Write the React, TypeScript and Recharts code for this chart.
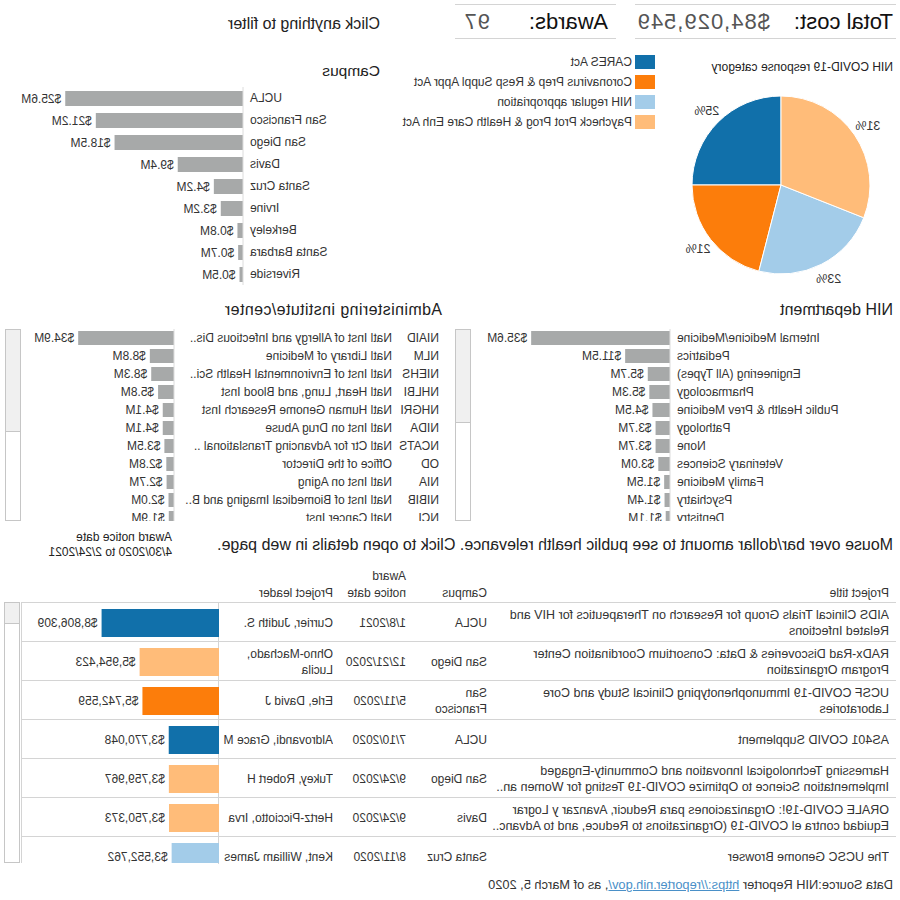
import React from 'react';
import { BarChart, Bar, XAxis, YAxis, LabelList, Cell, PieChart, Pie } from 'recharts';

// the whole dashboard is laid out normally and then flipped left-right, like the reference
const FONT = '"Liberation Sans", Arial, sans-serif';
const INK = '#333333';
const RULE = '#d4d4d4';
const GRAY_BAR = '#a7a9a9';

const CATEGORY_NAMES = [
  'CARES Act',
  'Coronavirus Prep & Resp Suppl Appr Act',
  'NIH regular appropriation',
  'Paycheck Prot Prog & Health Care Enh Act',
];
const CATEGORY_SHARE = [25, 21, 23, 31];
const CATEGORY_COLORS = ['#1170aa', '#fc7d0b', '#a3cce9', '#ffbc79'];

const CAMPUSES = ['UCLA', 'San Francisco', 'San Diego', 'Davis', 'Santa Cruz', 'Irvine', 'Berkeley', 'Santa Barbara', 'Riverside'];
const CAMPUS_M = [25.6, 21.2, 18.5, 9.4, 4.2, 3.2, 0.8, 0.7, 0.5];

const DEPARTMENTS = [
  'Internal Medicine/Medicine', 'Pediatrics', 'Engineering (All Types)', 'Pharmacology',
  'Public Health & Prev Medicine', 'Pathology', 'None', 'Veterinary Sciences',
  'Family Medicine', 'Psychiatry', 'Dentistry',
];
const DEPARTMENT_M = [35.6, 11.5, 5.7, 5.3, 4.5, 3.7, 3.7, 3.0, 1.5, 1.4, 1.1];

const INSTITUTE_CODES = ['NIAID', 'NLM', 'NIEHS', 'NHLBI', 'NHGRI', 'NIDA', 'NCATS', 'OD', 'NIA', 'NIBIB', 'NCI'];
const INSTITUTE_NAMES = [
  'Natl Inst of Allergy and Infectious Dis..',
  'Natl Library of Medicine',
  'Natl Inst of Environmental Health Sci..',
  'Natl Heart, Lung, and Blood Inst',
  'Natl Human Genome Research Inst',
  'Natl Inst on Drug Abuse',
  'Natl Ctr for Advancing Translational ..',
  'Office of the Director',
  'Natl Inst on Aging',
  'Natl Inst of Biomedical Imaging and B..',
  'Natl Cancer Inst',
];
const INSTITUTE_M = [34.9, 8.8, 8.3, 5.8, 4.1, 4.1, 3.5, 2.8, 2.7, 2.0, 1.9];

const PROJECT_TITLES = [
  'AIDS Clinical Trials Group for Research on Therapeutics for HIV and\nRelated Infections',
  'RADx-Rad Discoveries & Data: Consortium Coordination Center\nProgram Organization',
  'UCSF COVID-19 Immunophenotyping Clinical Study and Core\nLaboratories',
  'AS401 COVID Supplement',
  'Harnessing Technological Innovation and Community-Engaged\nImplementation Science to Optimize COVID-19 Testing for Women an..',
  'ORALE COVID-19!: Organizaciones para Reducir, Avanzar y Lograr\nEquidad contra el COVID-19 (Organizations to Reduce, and to Advanc..',
  'The UCSC Genome Browser',
];
const PROJECT_CAMPUS = ['UCLA', 'San Diego', 'San\nFrancisco', 'UCLA', 'San Diego', 'Davis', 'Santa Cruz'];
const PROJECT_DATES = ['1/8/2021', '12/21/2020', '5/11/2020', '7/10/2020', '9/24/2020', '9/24/2020', '8/11/2020'];
const PROJECT_LEADERS = [
  'Currier, Judith S.', 'Ohno-Machado,\nLucila', 'Erle, David J', 'Aldrovandi, Grace M',
  'Tukey, Robert H', 'Hertz-Picciotto, Irva', 'Kent, William James',
];
const PROJECT_AMOUNTS = [8806309, 5954423, 5742559, 3770048, 3759967, 3750373, 3552762];
const PROJECT_CATEGORY = [0, 3, 1, 0, 3, 3, 2];

const TOTAL_COST = '$84,029,549';
const AWARDS = 97;

const abs = (left: number, top: number, extra: React.CSSProperties = {}): React.CSSProperties => ({
  position: 'absolute', left, top, ...extra,
});

const Txt: React.FC<{ x: number; y: number; size?: number; color?: string; children: React.ReactNode; style?: React.CSSProperties }> = ({ x, y, size = 12, color = INK, children, style }) => (
  <div style={{ position: 'absolute', left: x, top: y - size * 0.6, fontSize: size, lineHeight: `${Math.round(size * 1.2)}px`, color, whiteSpace: 'pre', ...style }}>
    {children}
  </div>
);

type HBarProps = {
  names: string[];
  values: number[];
  left: number;
  top: number;
  width: number;
  height: number;
  clip: number;
  axisW: number;
  max: number;
  barSize: number;
  codes?: string[];
};

const HBar: React.FC<HBarProps> = ({ names, values, left, top, width, height, clip, axisW, max, barSize, codes }) => {
  const data = names.map((n, i) => ({ name: n, value: values[i] }));
  const tick = (p: any) => {
    const i = p.index;
    if (codes) {
      return (
        <g>
          <text x={11} y={p.y} dy="0.35em" fontSize={12} fill={INK} fontFamily={FONT}>{codes[i]}</text>
          <text x={58} y={p.y} dy="0.35em" fontSize={12} fill={INK} fontFamily={FONT}>{names[i]}</text>
        </g>
      );
    }
    return (
      <text x={axisW - 7} y={p.y} dy="0.35em" textAnchor="end" fontSize={12} fill={INK} fontFamily={FONT}>
        {names[i]}
      </text>
    );
  };
  return (
    <div style={abs(left, top, { width, height: clip, overflow: 'hidden' })}>
      <BarChart layout="vertical" width={width} height={height} data={data} margin={{ top: 0, right: 0, bottom: 0, left: 0 }}>
        <XAxis type="number" hide domain={[0, max]} />
        <YAxis type="category" dataKey="name" width={axisW} tickLine={false} axisLine={{ stroke: '#dcdcdc' }} tick={tick} interval={0} />
        <Bar dataKey="value" fill={GRAY_BAR} barSize={barSize} isAnimationActive={false}>
          <LabelList dataKey="value" position="right" offset={4} fontSize={12} fill={INK} formatter={(v: any) => `$${Number(v).toFixed(1)}M`} />
        </Bar>
      </BarChart>
    </div>
  );
};

const Scroll: React.FC<{ x: number; y: number; h: number; thumb: number }> = ({ x, y, h, thumb }) => (
  <div style={abs(x, y, { width: 16, height: h, border: '1px solid #c6c6c6', boxSizing: 'border-box', background: '#fff' })}>
    <div style={{ height: thumb, background: '#f0f0f0', borderBottom: '1px solid #c6c6c6' }} />
  </div>
);

const pieData = CATEGORY_NAMES.map((n, i) => ({ name: n, value: CATEGORY_SHARE[i] }));

const pieLabel = (p: any) => {
  const RAD = Math.PI / 180;
  const r = p.outerRadius + 16;
  const x = p.cx + r * Math.cos(-p.midAngle * RAD);
  const y = p.cy + r * Math.sin(-p.midAngle * RAD);
  return (
    <text x={x} y={y} textAnchor="middle" dominantBaseline="central" fontSize={12.5} fill={INK} fontFamily={FONT}>
      {`${p.value}%`}
    </text>
  );
};

const ROW_H = 39;
const TABLE_TOP = 602;
const TABLE_BOTTOM = 863;

const tableData = PROJECT_AMOUNTS.map((v, i) => ({ title: PROJECT_TITLES[i], value: v }));

export default function App() {
  return (
    <div
      style={{
        position: 'absolute', left: 0, top: 0, width: 900, height: 900, background: '#fff',
        transform: 'scaleX(-1)', fontFamily: FONT, color: INK, overflow: 'hidden',
      }}
    >
      {/* header */}
      <div style={abs(4, 4, { width: 261, height: 33, borderTop: `1px solid ${RULE}`, borderBottom: `1px solid ${RULE}` })} />
      <div style={abs(284, 4, { width: 161, height: 33, borderTop: `1px solid ${RULE}`, borderBottom: `1px solid ${RULE}` })} />
      <Txt x={7} y={22} size={22} color="#111">Total cost:</Txt>
      <Txt x={130} y={22} size={22} color="#555" style={{ letterSpacing: 1 }}>{TOTAL_COST}</Txt>
      <Txt x={292} y={22} size={22} color="#111">Awards:</Txt>
      <Txt x={410} y={22} size={22} color="#555" style={{ letterSpacing: 1 }}>{AWARDS}</Txt>
      <Txt x={520} y={24} size={16} color="#222">Click anything to filter</Txt>

      {/* response category pie */}
      <Txt x={7} y={67} size={12} color="#222">NIH COVID-19 response category</Txt>
      <div style={abs(0, 85)}>
        <PieChart width={240} height={220} margin={{ top: 0, right: 0, bottom: 0, left: 0 }}>
          <Pie
            data={pieData}
            dataKey="value"
            cx={119}
            cy={100}
            outerRadius={89}
            startAngle={90}
            endAngle={-270}
            stroke="#fff"
            strokeWidth={1}
            label={pieLabel}
            labelLine={false}
            isAnimationActive={false}
          >
            {pieData.map((d, i) => (
              <Cell key={d.name} fill={CATEGORY_COLORS[i]} />
            ))}
          </Pie>
        </PieChart>
      </div>
      {CATEGORY_NAMES.map((n, i) => (
        <React.Fragment key={n}>
          <div style={abs(245, 55 + i * 20, { width: 20, height: 14, background: CATEGORY_COLORS[i] })} />
          <Txt x={268} y={62 + i * 20} size={12}>{n}</Txt>
        </React.Fragment>
      ))}

      {/* campus */}
      <Txt x={520} y={70} size={15.5} color="#222">Campus</Txt>
      <HBar names={CAMPUSES} values={CAMPUS_M} left={450} top={87} width={450} height={198} clip={198} axisW={207} max={35} barSize={15} />

      {/* department */}
      <Txt x={7} y={310} size={16} color="#222">NIH department</Txt>
      <HBar names={DEPARTMENTS} values={DEPARTMENT_M} left={0} top={329} width={425} height={198} clip={192} axisW={230} max={50} barSize={14} />
      <Scroll x={429} y={329} h={192} thumb={92} />

      {/* institute */}
      <Txt x={458} y={310} size={16} color="#222" style={{ letterSpacing: 0.4 }}>Administering institute/center</Txt>
      <HBar names={INSTITUTE_NAMES} codes={INSTITUTE_CODES} values={INSTITUTE_M} left={450} top={329} width={427} height={198} clip={192} axisW={276} max={55} barSize={14} />
      <Scroll x={879} y={329} h={192} thumb={101} />

      {/* project table */}
      <Txt x={7} y={545} size={16} color="#222">Mouse over bar/dollar amount to see public health relevance. Click to open details in web page.</Txt>
      <Txt x={728} y={537} size={12} color="#222">Award notice date</Txt>
      <Txt x={728} y={552} size={12} color="#222">4/30/2020 to 2/24/2021</Txt>

      <Txt x={11} y={593} size={12}>Project title</Txt>
      <Txt x={413} y={593} size={12}>Campus</Txt>
      <Txt x={494} y={576} size={12}>Award</Txt>
      <Txt x={494} y={593} size={12}>notice date</Txt>
      <Txt x={567} y={593} size={12}>Project leader</Txt>

      <div style={abs(4, TABLE_TOP, { width: 874, height: TABLE_BOTTOM - TABLE_TOP, overflow: 'hidden', borderTop: `1px solid ${RULE}` })}>
        {PROJECT_TITLES.map((t, i) => {
          const top = i * ROW_H;
          const cell = (x: number, w: number, text: string, size = 12) => (
            <div
              style={{
                position: 'absolute', left: x, top, width: w, height: ROW_H, display: 'flex', alignItems: 'center',
                fontSize: size, lineHeight: '16px', whiteSpace: 'pre', overflow: 'hidden',
              }}
            >
              {text}
            </div>
          );
          return (
            <React.Fragment key={t}>
              {cell(7, 398, t, 12.5)}
              {cell(409, 75, PROJECT_CAMPUS[i])}
              {cell(490, 72, PROJECT_DATES[i])}
              {cell(563, 113, PROJECT_LEADERS[i])}
              <div style={{ position: 'absolute', left: 0, top: top + ROW_H - 1, width: 874, height: 1, background: RULE }} />
            </React.Fragment>
          );
        })}
        <div style={{ position: 'absolute', left: 677, top: 0, width: 1, height: 300, background: RULE }} />
      </div>
      <div style={abs(681, TABLE_TOP + 1, { width: 197, height: TABLE_BOTTOM - TABLE_TOP - 1, overflow: 'hidden' })}>
        <BarChart layout="vertical" width={200} height={ROW_H * 7} data={tableData} margin={{ top: 0, right: 0, bottom: 0, left: 0 }}>
          <XAxis type="number" hide domain={[0, 15000000]} />
          <YAxis type="category" dataKey="title" hide />
          <Bar dataKey="value" barSize={28} isAnimationActive={false}>
            {tableData.map((d, i) => (
              <Cell key={d.title} fill={CATEGORY_COLORS[PROJECT_CATEGORY[i]]} />
            ))}
            <LabelList dataKey="value" position="right" offset={4} fontSize={12} fill={INK} formatter={(v: any) => `$${Number(v).toLocaleString('en-US')}`} />
          </Bar>
        </BarChart>
      </div>
      <div style={abs(878, TABLE_TOP, { width: 1, height: TABLE_BOTTOM - TABLE_TOP, background: RULE })} />
      <Scroll x={880} y={TABLE_TOP} h={TABLE_BOTTOM - TABLE_TOP} thumb={20} />

      <Txt x={7} y={885} size={12.8} color="#333">
        Data Source:NIH Reporter <span style={{ color: '#4a90c8', textDecoration: 'underline' }}>https://reporter.nih.gov/</span>, as of March 5, 2020
      </Txt>
    </div>
  );
}
